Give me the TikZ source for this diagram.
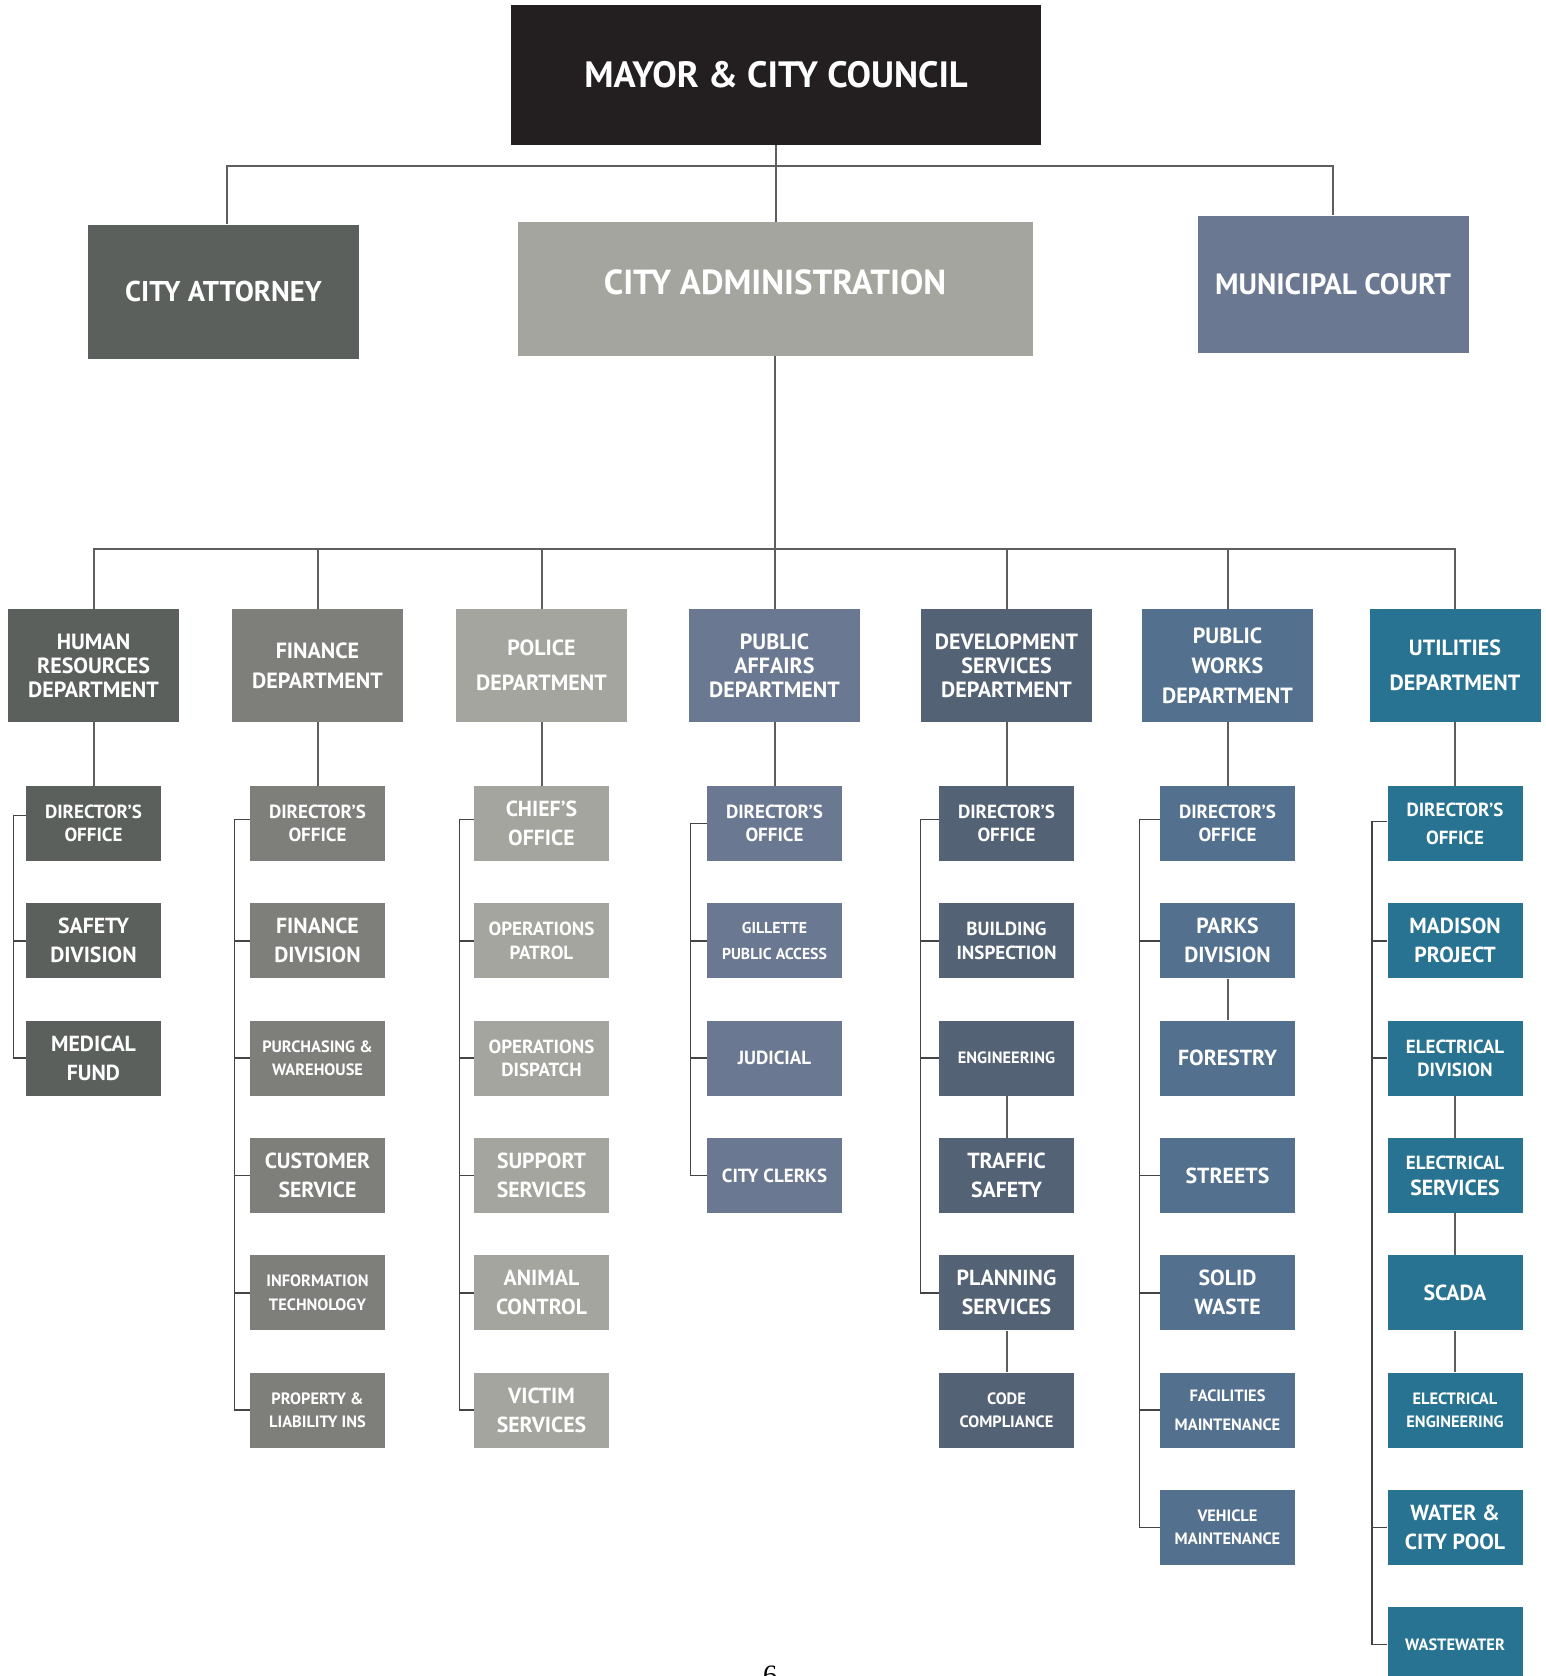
\documentclass[tikz,border=0pt]{standalone}
\usepackage{fontspec}
\setmainfont{PT Sans}
\newfontfamily\pagenumfont{Liberation Serif}
\definecolor{mayorC}{HTML}{231F20}
\definecolor{hrC}{HTML}{5B605D}
\definecolor{finC}{HTML}{7E7F7B}
\definecolor{polC}{HTML}{A3A59E}
\definecolor{paC}{HTML}{6B7891}
\definecolor{devC}{HTML}{536275}
\definecolor{pwC}{HTML}{53718E}
\definecolor{utilC}{HTML}{287391}
\definecolor{lineC}{HTML}{5E5E5E}
\definecolor{brkC}{HTML}{444444}
\tikzset{
  box/.style={rectangle, inner sep=0pt, align=center, text=white},
  top/.style={box, font=\bfseries\fontsize{14.3}{16}\selectfont},
  dept/.style={box, minimum width=85.5pt, minimum height=56.5pt},
  dA/.style={font=\bfseries\fontsize{11}{12}\selectfont},
  dB/.style={font=\bfseries\fontsize{11}{15}\selectfont},
  dC/.style={font=\bfseries\fontsize{11}{17.5}\selectfont},
  sub/.style={box, minimum width=67.5pt, minimum height=37.5pt},
  tL/.style={font=\bfseries\fontsize{10.9}{14.5}\selectfont},
  tM/.style={font=\bfseries\fontsize{9.5}{11.75}\selectfont},
  tS/.style={font=\bfseries\fontsize{8.2}{11.75}\selectfont},
  tXS/.style={font=\bfseries\fontsize{7.9}{12.8}\selectfont},
  conn/.style={draw=lineC, line width=1pt},
  brk/.style={draw=brkC, line width=0.8pt},
}
\begin{document}
\begin{tikzpicture}[x=0.5pt,y=-0.5pt]
\useasboundingbox (0,0) rectangle (1546,1676);
\clip (0,0) rectangle (1546,1676);
\fill[white] (0,0) rectangle (1546,1676);

% ---- top level ----
\node[top, fill=mayorC, minimum width=265pt, minimum height=70pt, font=\bfseries\fontsize{18.3}{20}\selectfont] (mayor) at (776,75) {MAYOR \& CITY COUNCIL};
\node[top, fill=hrC, minimum width=135.5pt, minimum height=67pt] (attorney) at (223.5,291.5) {CITY ATTORNEY};
\node[top, fill=polC, minimum width=257.5pt, minimum height=67pt, text depth=7pt, font=\bfseries\fontsize{17.4}{19}\selectfont] (admin) at (775,289) {CITY ADMINISTRATION};
\node[top, fill=paC, minimum width=135.5pt, minimum height=68.5pt, font=\bfseries\fontsize{14.7}{16}\selectfont] (court) at (1333,284) {MUNICIPAL COURT};

\coordinate (busA) at (775,165.5);
\coordinate (busB) at (775,548.5);

% ---- departments ----
\node[dept, dA, fill=hrC]   (hr)   at (93.5,665.5)  {HUMAN\\RESOURCES\\DEPARTMENT};
\node[dept, dB, fill=finC]  (fin)  at (317.5,665.5) {FINANCE\\DEPARTMENT};
\node[dept, dC, fill=polC]  (pol)  at (541.5,665.5) {POLICE\\DEPARTMENT};
\node[dept, dA, fill=paC]   (pa)   at (774.5,665.5) {PUBLIC\\AFFAIRS\\DEPARTMENT};
\node[dept, dA, fill=devC]  (dev)  at (1006.5,665.5) {DEVELOPMENT\\SERVICES\\DEPARTMENT};
\node[dept, dB, fill=pwC]   (pw)   at (1227.5,665.5) {PUBLIC\\WORKS\\DEPARTMENT};
\node[dept, dC, fill=utilC] (util) at (1455,665.5)  {UTILITIES\\DEPARTMENT};

% ---- human resources ----
\node[sub, tM, fill=hrC] (hr1) at (93.5,823.5)  {DIRECTOR’S\\OFFICE};
\node[sub, tL, fill=hrC] (hr2) at (93.5,940.8)  {SAFETY\\DIVISION};
\node[sub, tL, fill=hrC] (hr3) at (93.5,1058.1) {MEDICAL\\FUND};

% ---- finance ----
\node[sub, tM, fill=finC] (fin1) at (317.5,823.5)  {DIRECTOR’S\\OFFICE};
\node[sub, tL, fill=finC] (fin2) at (317.5,940.8)  {FINANCE\\DIVISION};
\node[sub, tS, fill=finC] (fin3) at (317.5,1058.1) {PURCHASING \&\\WAREHOUSE};
\node[sub, tL, fill=finC] (fin4) at (317.5,1175.4) {CUSTOMER\\SERVICE};
\node[sub, tS, fill=finC] (fin5) at (317.5,1292.7) {INFORMATION\\TECHNOLOGY};
\node[sub, tS, fill=finC] (fin6) at (317.5,1410)   {PROPERTY \&\\LIABILITY INS};

% ---- police ----
\node[sub, tL, fill=polC] (pol1) at (541.5,823.5)  {CHIEF’S\\OFFICE};
\node[sub, tM, fill=polC] (pol2) at (541.5,940.8)  {OPERATIONS\\PATROL};
\node[sub, tM, fill=polC] (pol3) at (541.5,1058.1) {OPERATIONS\\DISPATCH};
\node[sub, tL, fill=polC] (pol4) at (541.5,1175.4) {SUPPORT\\SERVICES};
\node[sub, tL, fill=polC] (pol5) at (541.5,1292.7) {ANIMAL\\CONTROL};
\node[sub, tL, fill=polC] (pol6) at (541.5,1410)   {VICTIM\\SERVICES};

% ---- public affairs ----
\node[sub, tM, fill=paC]  (pa1) at (774.5,823.5)  {DIRECTOR’S\\OFFICE};
\node[sub, tXS, fill=paC] (pa2) at (774.5,940.8)  {GILLETTE\\PUBLIC ACCESS};
\node[sub, tM, fill=paC]  (pa3) at (774.5,1058.1) {JUDICIAL};
\node[sub, tM, fill=paC]  (pa4) at (774.5,1175.4) {CITY CLERKS};

% ---- development services ----
\node[sub, tM, fill=devC] (dev1) at (1006.5,823.5)  {DIRECTOR’S\\OFFICE};
\node[sub, tM, fill=devC] (dev2) at (1006.5,940.8)  {BUILDING\\INSPECTION};
\node[sub, tS, fill=devC] (dev3) at (1006.5,1058.1) {ENGINEERING};
\node[sub, tL, fill=devC] (dev4) at (1006.5,1175.4) {TRAFFIC\\SAFETY};
\node[sub, tL, fill=devC] (dev5) at (1006.5,1292.7) {PLANNING\\SERVICES};
\node[sub, tS, fill=devC] (dev6) at (1006.5,1410)   {CODE\\COMPLIANCE};

% ---- public works ----
\node[sub, tM, fill=pwC] (pw1) at (1227.5,823.5)  {DIRECTOR’S\\OFFICE};
\node[sub, tL, fill=pwC] (pw2) at (1227.5,940.8)  {PARKS\\DIVISION};
\node[sub, tL, fill=pwC] (pw3) at (1227.5,1058.1) {FORESTRY};
\node[sub, tL, fill=pwC] (pw4) at (1227.5,1175.4) {STREETS};
\node[sub, tL, fill=pwC] (pw5) at (1227.5,1292.7) {SOLID\\WASTE};
\node[sub, tS, fill=pwC, font=\bfseries\fontsize{8.2}{14.5}\selectfont] (pw6) at (1227.5,1410) {FACILITIES\\MAINTENANCE};
\node[sub, tS, fill=pwC] (pw7) at (1227.5,1527.3) {VEHICLE\\MAINTENANCE};

% ---- utilities ----
\node[sub, tM, fill=utilC, font=\bfseries\fontsize{9.5}{14}\selectfont] (util1) at (1455,823.5) {DIRECTOR’S\\OFFICE};
\node[sub, tL, fill=utilC] (util2) at (1455,940.8)  {MADISON\\PROJECT};
\node[sub, tM, fill=utilC] (util3) at (1455,1058.1) {ELECTRICAL\\DIVISION};
\node[sub, tM, fill=utilC, font=\bfseries\fontsize{9.5}{13}\selectfont] (util4) at (1455,1175.4) {ELECTRICAL\\{\fontsize{10.9}{13}\selectfont SERVICES}};
\node[sub, tL, fill=utilC] (util5) at (1455,1292.7) {SCADA};
\node[sub, tS, fill=utilC] (util6) at (1455,1410)   {ELECTRICAL\\ENGINEERING};
\node[sub, tL, fill=utilC] (util7) at (1455,1527.3) {WATER \&\\CITY POOL};
\node[sub, tS, fill=utilC] (util8) at (1455,1644.6) {WASTEWATER};

% ---- page number (cut by the page edge, as in the original) ----
\node[anchor=north, inner sep=0pt, font=\pagenumfont\fontsize{14}{14}\selectfont] (pagenum) at (770,1666) {6};

% ---- connectors: top ----
\draw[conn] (mayor.south) -- (mayor.south |- admin.north);
\draw[conn] ([xshift=1.6pt]attorney.north) |- (busA) -| (court.north);
\draw[conn] (admin.south) -- (busB);
\draw[conn] (hr.north) |- (busB) -| (util.north);
\foreach \d in {fin,pol,pa,dev,pw}
  \draw[conn] (\d.north) -- (\d.north |- busB);

% ---- connectors: department to first unit ----
\foreach \d in {hr,fin,pol,pa,dev,pw,util}
  \draw[conn] (\d.south) -- (\d1.north);

% ---- chains inside columns ----
\draw[conn] (dev3.south) -- (dev4.north);
\draw[conn] (dev5.south) -- (dev6.north);
\draw[conn] (pw2.south) -- (pw3.north);
\draw[conn] (util3.south) -- (util4.north);
\draw[conn] (util4.south) -- (util5.north);
\draw[conn] (util5.south) -- (util6.north);

% ---- side brackets ----
\draw[brk] ([yshift=4pt]hr1.west) -- ++(-12,0) |- (hr3.west);
\draw[brk] (hr2.west) -- ++(-12,0);

\draw[brk] ([yshift=2pt]fin1.west) -- ++(-15,0) |- (fin6.west);
\foreach \i in {2,...,5} \draw[brk] (fin\i.west) -- ++(-15,0);

\draw[brk] ([yshift=2pt]pol1.west) -- ++(-14,0) |- (pol6.west);
\foreach \i in {2,...,5} \draw[brk] (pol\i.west) -- ++(-14,0);

\draw[brk] (pa1.west) -- ++(-16,0) |- (pa4.west);
\foreach \i in {2,3} \draw[brk] (pa\i.west) -- ++(-16,0);

\draw[brk] ([yshift=2pt]dev1.west) -- ++(-18,0) |- (dev5.west);
\foreach \i in {2,3} \draw[brk] (dev\i.west) -- ++(-18,0);

\draw[brk] ([yshift=2pt]pw1.west) -- ++(-20,0) |- (pw7.west);
\foreach \i in {2,4,5,6} \draw[brk] (pw\i.west) -- ++(-20,0);

\draw[brk] ([yshift=1pt]util1.west) -- ++(-15,0) |- (util8.west);
\foreach \i in {2,3,7} \draw[brk] (util\i.west) -- ++(-15,0);
\end{tikzpicture}
\end{document}
